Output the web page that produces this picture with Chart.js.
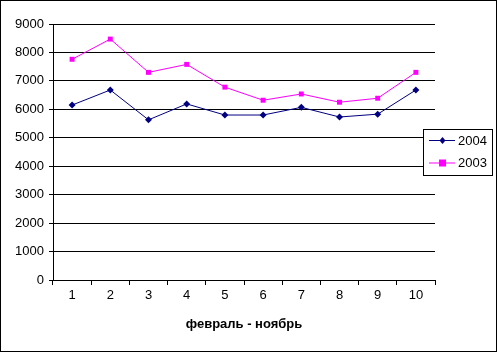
<!DOCTYPE html>
<html>
<head>
<meta charset="utf-8">
<script src="https://cdn.jsdelivr.net/npm/chart.js@4/dist/chart.umd.min.js"></script>
<style>
  html, body { margin: 0; padding: 0; background: #fff; }
  #wrap { width: 497px; height: 352px; position: relative; }
</style>
</head>
<body>
<div id="wrap"><canvas id="chart" width="497" height="352"></canvas></div>
<script>
const labels = ['1', '2', '3', '4', '5', '6', '7', '8', '9', '10'];
const values2004 = [6150, 6680, 5630, 6190, 5800, 5800, 6070, 5730, 5830, 6680];
const values2003 = [7760, 8470, 7300, 7580, 6780, 6320, 6540, 6250, 6390, 7300];
const xTitle = 'февраль - ноябрь';

const FONT = 'Liberation Sans, Arial, sans-serif';

// white background + outer frame
const frame = {
    id: 'frame',
    beforeDraw(chart) {
        const ctx = chart.ctx;
        ctx.save();
        ctx.fillStyle = '#fff';
        ctx.fillRect(0, 0, chart.width, chart.height);
        ctx.restore();
    },
    afterDraw(chart) {
        const ctx = chart.ctx;
        ctx.save();
        ctx.strokeStyle = '#000';
        ctx.lineWidth = 1;
        ctx.strokeRect(0.5, 0.5, chart.width - 1, chart.height - 1);
        ctx.restore();
    }
};

// excel-like legend box sitting on the right edge of the plot
const boxLegend = {
    id: 'boxLegend',
    afterDraw(chart) {
        const ctx = chart.ctx;
        const x = 423, y = 129, w = 69, h = 46;
        ctx.save();
        ctx.fillStyle = '#fff';
        ctx.fillRect(x, y, w, h);
        ctx.strokeStyle = '#000';
        ctx.lineWidth = 1;
        ctx.strokeRect(x + 0.5, y + 0.5, w, h);
        ctx.font = '13px ' + FONT;
        ctx.textBaseline = 'middle';
        chart.data.datasets.forEach((ds, i) => {
            const ly = 140 + i * 22.5;
            ctx.strokeStyle = ds.borderColor;
            ctx.beginPath();
            ctx.moveTo(429, ly + 0.5);
            ctx.lineTo(455, ly + 0.5);
            ctx.stroke();
            ctx.fillStyle = ds.borderColor;
            if (ds.pointStyle === 'rect') {
                ctx.fillRect(439, ly - 3, 7, 7);
            } else {
                ctx.beginPath();
                ctx.moveTo(442.5, ly - 3);
                ctx.lineTo(445.5, ly + 0.5);
                ctx.lineTo(442.5, ly + 4);
                ctx.lineTo(439.5, ly + 0.5);
                ctx.closePath();
                ctx.fill();
            }
            ctx.fillStyle = '#000';
            ctx.fillText(ds.label, 458, ly + 1);
        });
        ctx.restore();
    }
};

const data = {
    labels: labels,
    datasets: [
        {
            label: '2004',
            data: values2004,
            borderColor: '#000080',
            backgroundColor: '#000080',
            borderWidth: 1,
            pointStyle: 'rectRot',
            pointRadius: 3.5,
            pointBorderWidth: 0,
            tension: 0
        },
        {
            label: '2003',
            data: values2003,
            borderColor: '#ff00ff',
            backgroundColor: '#ff00ff',
            borderWidth: 1,
            pointStyle: 'rect',
            pointRadius: 3.5,
            pointBorderWidth: 0,
            tension: 0
        }
    ]
};

const chart = new Chart(document.getElementById('chart').getContext('2d'), {
    type: 'line',
    data: data,
    plugins: [frame, boxLegend],
    options: {
        responsive: false,
        animation: false,
        devicePixelRatio: 1,
        layout: {
            padding: { top: 24, right: 62, left: 0, bottom: 0 }
        },
        plugins: {
            legend: { display: false },
            tooltip: { enabled: false }
        },
        scales: {
            x: {
                offset: true,
                afterFit: (scale) => { scale.height = 72; },
                grid: {
                    offset: true,
                    drawOnChartArea: false,
                    color: '#000',
                    tickLength: 5
                },
                border: { color: '#000' },
                ticks: {
                    color: '#000',
                    padding: 3,
                    maxRotation: 0,
                    font: { family: FONT, size: 13 }
                },
                title: {
                    display: true,
                    text: xTitle,
                    color: '#000',
                    padding: { top: 4, bottom: 20 },
                    font: { family: FONT, size: 13, weight: 'bold' }
                }
            },
            y: {
                min: 0,
                max: 9000,
                afterFit: (scale) => { scale.width = 53; },
                grid: {
                    color: '#000',
                    tickLength: 4
                },
                border: { color: '#000' },
                ticks: {
                    stepSize: 1000,
                    color: '#000',
                    padding: 5,
                    callback: (v) => String(v),
                    font: { family: FONT, size: 13 }
                }
            }
        }
    }
});
</script>
</body>
</html>
